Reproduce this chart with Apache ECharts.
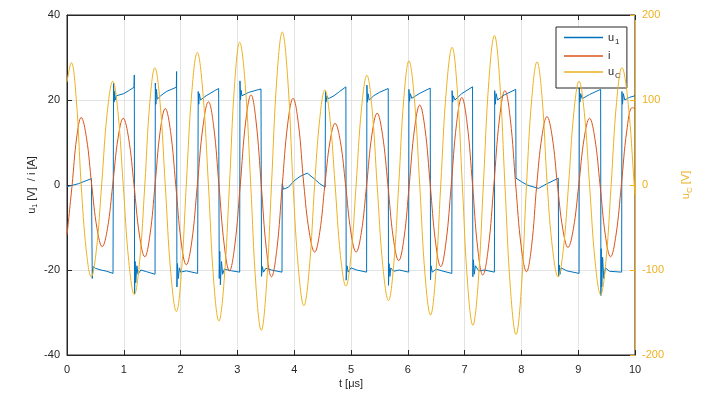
<!DOCTYPE html>
<html><head><meta charset="utf-8">
<script src="https://cdn.jsdelivr.net/npm/echarts@6/dist/echarts.min.js"></script>
<style>html,body{margin:0;padding:0;background:#fff}#c{width:705px;height:397px}</style>
</head><body><div id="c"></div>
<script>
// ---- data ----
const u1T = [0,0.2,0.43,0.44,0.445,0.46,0.5,0.6,0.7,0.81,
 0.815,0.82,0.83,0.84,0.85,0.87,0.9,1.0,1.1,1.18,
 1.185,1.19,1.2,1.21,1.23,1.25,1.3,1.4,1.55,
 1.555,1.565,1.575,1.59,1.65,1.75,1.925,
 1.93,1.935,1.945,1.96,1.98,2.0,2.1,2.3,
 2.305,2.31,2.32,2.33,2.35,2.45,2.6,2.67,
 2.675,2.68,2.69,2.7,2.72,2.74,2.77,2.9,3.04,
 3.045,3.055,3.065,3.08,3.2,3.415,
 3.42,3.425,3.44,3.46,3.5,3.6,3.785,
 3.79,3.81,3.9,4.0,4.1,4.23,4.35,4.45,4.545,
 4.55,4.56,4.575,4.6,4.7,4.8,4.91,
 4.915,4.93,4.95,5.0,5.1,5.275,
 5.28,5.29,5.3,5.32,5.4,5.5,5.655,
 5.66,5.67,5.685,5.7,5.75,5.85,6.015,
 6.02,6.03,6.045,6.07,6.2,6.395,
 6.4,6.41,6.43,6.5,6.6,6.775,
 6.78,6.79,6.8,6.83,6.95,7.14,
 7.145,7.155,7.17,7.19,7.25,7.35,7.525,
 7.53,7.54,7.555,7.58,7.7,7.9,
 7.905,8.0,8.1,8.3,8.45,8.65,
 8.655,8.665,8.68,8.7,8.8,9.015,
 9.02,9.03,9.045,9.07,9.2,9.395,
 9.40,9.405,9.415,9.43,9.45,9.48,9.55,9.765,
 9.77,9.78,9.795,9.82,9.9,10];
const u1V = [-0.4,0.3,1.5,1.5,-22,-19.2,-19.6,-20,-20.3,-20.8,
 -20.8,24,19.5,22,20,21,20.6,21.5,22.3,23,
 25.9,-25.5,-18,-23,-19,-21,-20,-20.4,-21,
 24,19,22.5,20.2,21,22,23,
 26.7,-24,-18.5,-22,-19.5,-20.5,-20.2,-20.8,
 -20.8,22,19,21.5,20,21,22.2,22.7,
 23,-22,-15.6,-23.5,-18,-21,-19.8,-20.2,-20.5,
 24.5,20,22.3,21,21.8,22.6,
 22.6,-21.5,-19.2,-20.5,-19.6,-20,-20.5,
 0.3,-1,-0.5,1,2,2.8,1.5,0.3,-0.5,
 22,19.5,21,20.3,21,22,23.1,
 -22.4,-19,-20.5,-19.5,-20,-20.5,
 23.5,19.5,21.5,20,21,21.8,22.7,
 -23.6,-18.5,-21.5,-19.5,-20.3,-20,-20.5,
 22.5,19.7,21.5,20.4,21.5,22.8,
 -22.3,-19,-20.5,-19.8,-20.2,-20.8,
 22.2,19.5,21,20,21.5,23.1,
 -21.6,-17.6,-21,-19,-20.2,-20,-20.5,
 22.2,19,21.5,20,21.2,22.5,
 1.6,0.8,0,-0.8,0.3,1.6,
 -21.5,-18.8,-21,-19.5,-20.2,-20.8,
 23,19.5,21.5,20.3,21.3,22.5,
 -26,-15,-24,-17,-22,-19.5,-20.3,-20.5,
 22,19,21.5,20,20.6,21];

const iT = [0,0.09,
 0.17,0.25,0.343,0.435, 0.528,0.62,0.713,0.805, 0.898,0.99,1.085,1.18, 1.275,1.37,1.46,1.55,
 1.64,1.73,1.823,1.915, 2.008,2.10,2.198,2.295, 2.393,2.49,2.583,2.675, 2.768,2.86,2.955,3.05,
 3.145,3.24,3.33,3.42, 3.51,3.60,3.695,3.79, 3.885,3.98,4.075,4.17, 4.265,4.36,4.45,4.54,
 4.63,4.72,4.813,4.905, 4.998,5.09,5.183,5.275, 5.368,5.46,5.555,5.65, 5.745,5.84,5.933,6.025,
 6.118,6.21,6.303,6.395, 6.488,6.58,6.673,6.765, 6.858,6.95,7.045,7.14, 7.23,7.32,7.418,7.515,
 7.613,7.71,7.805,7.9, 7.995,8.09,8.18,8.27, 8.36,8.45,8.543,8.635, 8.728,8.82,8.915,9.01,
 9.105,9.20,9.293,9.385, 9.478,9.57,9.665,9.76,
 9.855,9.95,10];
const iV = [-11.8,0,
 11.1,15.9,11.1,0, -10.2,-14.5,-10.2,0, 11.0,15.7,11.0,0, -11.8,-16.9,-11.8,0,
 12.6,18.0,12.6,0, -13.2,-18.8,-13.2,0, 13.7,19.6,13.7,0, -14.1,-20.2,-14.1,0,
 14.8,21.2,14.8,0, -15.1,-21.6,-15.1,0, 14.3,20.4,14.3,0, -11.1,-15.8,-11.1,0,
 10.2,14.5,10.2,0, -11.1,-15.8,-11.1,0, 11.8,16.9,11.8,0, -12.5,-17.8,-12.5,0,
 13.2,18.8,13.2,0, -13.4,-19.2,-13.4,0, 14.4,20.6,14.4,0, -14.8,-21.2,-14.8,0,
 15.5,22.2,15.5,0, -14.3,-20.4,-14.3,0, 11.3,16.1,11.3,0, -10.3,-14.7,-10.3,0,
 11.0,15.7,11.0,0, -11.8,-16.9,-11.8,0,
 12.7,18.2,18.0];

const ucT = [0,0.076,
 0.163,0.25,0.338,0.426, 0.518,0.61,0.708,0.806, 0.898,0.99,1.088,1.185, 1.278,1.37,1.458,1.547,
 1.638,1.73,1.828,1.926, 2.013,2.10,2.197,2.294, 2.392,2.49,2.582,2.674, 2.767,2.86,2.95,3.04,
 3.138,3.235,3.328,3.42, 3.51,3.60,3.695,3.79, 3.885,3.98,4.075,4.17, 4.265,4.36,4.45,4.54,
 4.63,4.72,4.815,4.91, 5.0,5.09,5.185,5.28, 5.37,5.46,5.56,5.66, 5.75,5.84,5.93,6.02,
 6.115,6.21,6.305,6.40, 6.49,6.58,6.68,6.78, 6.87,6.96,7.053,7.145, 7.238,7.33,7.428,7.525,
 7.618,7.71,7.808,7.905, 7.998,8.09,8.183,8.275, 8.365,8.455,8.55,8.645, 8.738,8.83,8.923,9.015,
 9.108,9.20,9.298,9.395, 9.488,9.58,9.675,9.77,
 9.878,9.987,10];
const ucV = [121,144,
 101,0,-76,-108, -76,0,85,122, 85,0,-90,-129, -90,0,97,138,
 97,0,-104,-149, -104,0,109,156, 109,0,-112,-160, -112,0,118,168,
 118,0,-120,-171, -120,0,126,180, 126,0,-99,-142, -99,0,78,112,
 78,0,-83,-119, -83,0,90,129, 90,0,-95,-136, -95,0,102,146,
 102,0,-107,-153, -107,0,113,162, 113,0,-116,-165, -116,0,123,176,
 123,0,-123,-176, -123,0,102,145, 102,0,-76,-108, -76,0,85,122,
 85,0,-90,-129, -90,0,97,138,
 97,0,-12];

const seriesNames = ['u1','i','uC'];
const colors = ['#0072BD','#D95319','#EDB120'];

const pairs = (t,v) => t.map((x,k)=>[x,v[k]]);

const chart = echarts.init(document.getElementById('c'));
const font = 'Liberation Sans, Arial, Helvetica, sans-serif';
const axisCol = '#262626';
chart.setOption({
  animation:false,
  textStyle:{fontFamily:font},
  grid:{left:67,right:70,top:15,bottom:42,show:true,borderColor:axisCol,borderWidth:1,outerBoundsMode:'none',containLabel:false},
  legend:{
    orient:'vertical', left:556, top:27, padding:[5,6,8,8], itemGap:5,
    icon:'rect', itemWidth:39, itemHeight:1.5, symbolKeepAspect:false,
    itemStyle:{borderWidth:0},
    backgroundColor:'#fff', borderColor:axisCol, borderWidth:1,
    data:seriesNames,
    formatter:n=> n==='u1' ? '{b|u}{s|1}' : (n==='uC' ? '{b|u}{s|C}' : '{b|i}'),
    textStyle:{color:axisCol, fontSize:11, rich:{b:{fontSize:11,fontFamily:font,color:axisCol}, s:{fontSize:8,fontFamily:font,color:axisCol,padding:[8,0,0,1]}}}
  },
  xAxis:[{
    type:'value', min:0, max:10, interval:1, position:'bottom',
    name:'t [μs]', nameLocation:'middle', nameGap:23, nameMoveOverlap:false,
    nameTextStyle:{color:axisCol,fontSize:11,fontFamily:font},
    axisLine:{onZero:false,lineStyle:{color:axisCol}}, axisTick:{inside:true,length:5,lineStyle:{color:axisCol}},
    axisLabel:{color:axisCol,fontSize:11,margin:9},
    splitLine:{show:true,lineStyle:{color:'#e3e3e3'}}
  },{
    type:'value', min:0, max:10, interval:1, position:'top',
    axisLine:{onZero:false,lineStyle:{color:axisCol}}, axisTick:{inside:true,length:5,lineStyle:{color:axisCol}},
    axisLabel:{show:false}, splitLine:{show:false}
  }],
  yAxis:[{
    type:'value', min:-40, max:40, interval:20, position:'left',
    name:'{n|u}{s|1}{n| [V]  / i [A]}', nameLocation:'middle', nameGap:28, nameMoveOverlap:false,
    nameTextStyle:{color:axisCol,fontSize:11,rich:{n:{fontSize:11,fontFamily:font,color:axisCol},s:{fontSize:7,fontFamily:font,color:axisCol,padding:[7,0,0,0]}}},
    axisLine:{show:true,onZero:false,lineStyle:{color:axisCol}}, axisTick:{show:true,inside:true,length:5,lineStyle:{color:axisCol}},
    axisLabel:{color:axisCol,fontSize:11,margin:7},
    splitLine:{show:true,lineStyle:{color:'#e3e3e3'}}
  },{
    type:'value', min:-200, max:200, interval:100, position:'right',
    name:'{n|u}{s|C}{n| [V]}', nameLocation:'middle', nameGap:43, nameRotate:90, nameMoveOverlap:false,
    nameTextStyle:{color:colors[2],fontSize:11,rich:{n:{fontSize:11,fontFamily:font,color:colors[2]},s:{fontSize:8,fontFamily:font,color:colors[2],padding:[8,0,0,0]}}},
    axisLine:{show:true,onZero:false,lineStyle:{color:colors[2]}}, axisTick:{show:true,inside:true,length:5,lineStyle:{color:colors[2]}},
    axisLabel:{color:colors[2],fontSize:11,margin:7},
    splitLine:{show:false}
  }],
  series:[
    {name:'u1',type:'line',xAxisIndex:0,yAxisIndex:0,data:pairs(u1T,u1V),symbol:'none',lineStyle:{width:1,color:colors[0]},itemStyle:{color:colors[0]},z:2},
    {name:'i',type:'line',xAxisIndex:0,yAxisIndex:0,data:pairs(iT,iV),symbol:'none',smooth:0.4,lineStyle:{width:1,color:colors[1]},itemStyle:{color:colors[1]},z:3},
    {name:'uC',type:'line',xAxisIndex:0,yAxisIndex:1,data:pairs(ucT,ucV),symbol:'none',smooth:0.4,lineStyle:{width:1,color:colors[2]},itemStyle:{color:colors[2]},z:4}
  ]
});
</script></body></html>
